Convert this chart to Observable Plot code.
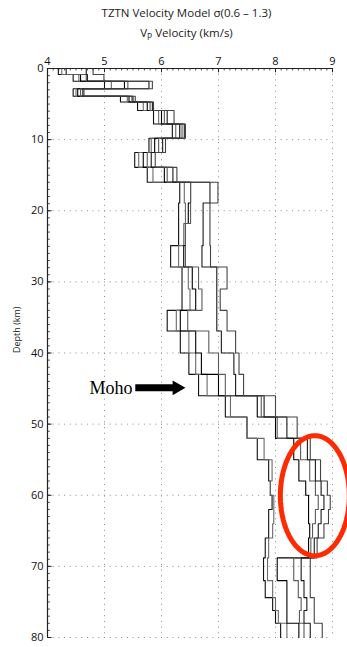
<!DOCTYPE html>
<html>
<head>
<meta charset="utf-8">
<script src="https://cdn.jsdelivr.net/npm/d3@7"></script>
<script src="https://cdn.jsdelivr.net/npm/@observablehq/plot@0.6"></script>
<style>
  html, body { margin: 0; padding: 0; background: #fff; width: 347px; height: 647px; overflow: hidden; }
  .ttl { position: absolute; left: 44px; width: 285px; text-align: center; font-family: "Open Sans", sans-serif; font-size: 11.5px; color: #222; white-space: nowrap; }
  #chart { position: absolute; left: 0; top: 42px; }
  sub { font-size: 8.5px; vertical-align: -3px; line-height: 0; }
</style>
</head>
<body>
<div class="ttl" style="top:5px">TZTN Velocity Model σ(0.6 – 1.3)</div>
<div class="ttl" style="top:25px">V<sub>P</sub> Velocity (km/s)</div>
<div id="chart"></div>
<script>
// ---- data ----
const layerBounds = [0, 0.85, 1.8, 2.85, 3.9, 4.7, 5.9, 7.8, 9.8, 11.8, 13.9, 16, 18.9, 21.8, 24.9, 27.9, 31, 34, 36.9, 40, 43, 46, 49, 52, 55, 58, 60, 62, 64, 66, 68.8, 72, 74.4, 76.2, 78, 80];
const model1 = [4.19, 4.45, 5.00, 4.45, 5.28, 5.58, 5.86, 6.19, 5.78, 5.53, 5.75, 6.32, 6.30, 6.30, 6.16, 6.36, 6.36, 6.10, 6.33, 6.48, 6.65, 7.12, 7.50, 7.68, 7.88, 7.91, 7.94, 7.88, 7.88, 7.82, 7.79, 7.82, 7.95, 8.00, 8.09];
const model2 = [4.25, 4.55, 5.12, 4.50, 5.40, 5.68, 5.95, 6.25, 5.82, 5.60, 5.85, 6.40, 6.42, 6.39, 6.30, 6.47, 6.50, 6.26, 6.48, 6.60, 6.80, 7.21, 7.50, 7.80, 7.94, 7.91, 7.97, 7.97, 7.95, 7.88, 7.86, 7.95, 8.00, 8.05, 8.20];
const model3 = [4.33, 4.58, 5.35, 4.53, 5.43, 5.75, 6.00, 6.32, 5.88, 5.68, 6.05, 6.51, 6.47, 6.42, 6.39, 6.54, 6.60, 6.33, 6.60, 6.70, 7.00, 7.68, 8.00, 8.32, 8.41, 8.53, 8.58, 8.58, 8.60, 8.58, 8.03, 8.20, 8.20, 8.20, 8.41];
const model4 = [4.33, 4.68, 5.41, 4.58, 5.48, 5.80, 6.05, 6.36, 5.95, 5.75, 6.10, 6.51, 6.51, 6.42, 6.42, 6.65, 6.71, 6.46, 6.83, 7.00, 7.12, 7.75, 8.03, 8.44, 8.60, 8.70, 8.75, 8.70, 8.65, 8.62, 8.32, 8.40, 8.45, 8.42, 8.50];
const model5 = [4.68, 4.70, 5.78, 4.62, 5.50, 5.84, 6.10, 6.40, 6.02, 5.82, 6.20, 6.85, 6.73, 6.73, 6.71, 6.97, 6.97, 6.97, 7.05, 7.27, 7.30, 7.80, 8.20, 8.56, 8.70, 8.80, 8.85, 8.80, 8.75, 8.68, 8.45, 8.50, 8.55, 8.50, 8.61];
const model6 = [4.80, 4.99, 5.84, 4.64, 5.54, 5.86, 6.22, 6.42, 6.07, 5.89, 6.27, 6.99, 6.85, 6.85, 6.86, 7.15, 7.03, 7.15, 7.30, 7.36, 7.44, 8.00, 8.38, 8.61, 8.79, 8.91, 8.96, 8.93, 8.85, 8.73, 8.61, 8.61, 8.68, 8.68, 8.82];
const modelNames = ["m1", "m2", "m3", "m4", "m5", "m6"];
const xTicks = [4, 5, 6, 7, 8, 9];
const yTicks = [0, 10, 20, 30, 40, 50, 60, 70, 80];
const mohoLabel = "Moho";
const mohoDepth = 44.9;
const mohoTextVel = 5.49;
const mohoArrowFrom = 5.54;
const mohoArrowTo = 6.27;
const anomalyCenter = [8.69, 60.06];   // velocity, depth
const anomalyRadii = [0.605, 8.44];    // velocity, depth

// ---- derived ----
const modelColors = ["#111", "#6a6a6a", "#000", "#5a5a5a", "#1a1a1a", "#444"];
const models = [model1, model2, model3, model4, model5, model6];
const pts = [];
models.forEach((vals, i) => {
  vals.forEach((v, j) => {
    pts.push({model: modelNames[i], v, depth: layerBounds[j]});
    pts.push({model: modelNames[i], v, depth: layerBounds[j + 1]});
  });
});
const xMinor = d3.range(40, 91).map(d => d / 10);
const yMinor = d3.range(0, 81);
const ellipse = d3.range(0, 121).map(i => {
  const t = (i / 120) * 2 * Math.PI;
  return {v: anomalyCenter[0] + anomalyRadii[0] * Math.cos(t), depth: anomalyCenter[1] + anomalyRadii[1] * Math.sin(t)};
});

const chart = Plot.plot({
  width: 347,
  height: 605,
  marginTop: 26,
  marginBottom: 10,
  marginLeft: 47,
  marginRight: 15,
  style: {fontFamily: "Open Sans, sans-serif", fontSize: "11px", color: "#111", background: "white", overflow: "visible"},
  x: {domain: [4, 9], axis: "top", ticks: xTicks, tickSize: 0, tickPadding: 4, label: null, tickFormat: d3.format("d")},
  y: {domain: [0, 80], reverse: true, axis: "left", ticks: yTicks, tickSize: 0, tickPadding: 4, label: null, tickFormat: d3.format("d")},
  color: {domain: modelNames, range: modelColors},
  marks: [
    Plot.ruleX(xTicks.slice(1), {stroke: "#8a8a8a", strokeWidth: 1, strokeDasharray: "1,4.7"}),
    Plot.ruleY(yTicks.slice(1), {stroke: "#8a8a8a", strokeWidth: 1, strokeDasharray: "1,4.7"}),
    Plot.ruleX(xMinor, {y1: 0, y2: 0.35, stroke: "#222", strokeWidth: 0.8}),
    Plot.ruleY(yMinor, {x1: 4, x2: 4.05, stroke: "#222", strokeWidth: 0.8}),
    Plot.ruleX(xTicks, {y1: 0, y2: 0.6, stroke: "#222", strokeWidth: 1}),
    Plot.ruleY(yTicks, {x1: 4, x2: 4.08, stroke: "#222", strokeWidth: 1}),
    Plot.line(pts, {x: "v", y: "depth", z: "model", stroke: "model", strokeWidth: 1.1, curve: "linear"}),
    Plot.ruleX([4], {stroke: "#222", strokeWidth: 1.2}),
    Plot.ruleY([0], {stroke: "#222", strokeWidth: 1.2}),
    Plot.text(["Depth (km)"], {frameAnchor: "left", rotate: -90, dx: -30, fontSize: 9, fill: "#222"}),
    Plot.text([{v: mohoTextVel, depth: mohoDepth, label: mohoLabel}], {x: "v", y: "depth", text: "label", textAnchor: "end", fontFamily: "Liberation Serif, serif", fontSize: 18, fill: "#000"}),
    Plot.link([{a: mohoArrowFrom, b: mohoArrowTo, d: mohoDepth}], {x1: "a", x2: "b", y1: "d", y2: "d", stroke: "#000", strokeWidth: 7}),
    Plot.dot([{v: mohoArrowTo, depth: mohoDepth}], {x: "v", y: "depth", symbol: "triangle", rotate: 90, r: 5.5, fill: "#000", stroke: null}),
    Plot.line(ellipse, {x: "v", y: "depth", stroke: "#ff2a00", strokeWidth: 5, curve: "linear"})
  ]
});
document.getElementById("chart").appendChild(chart);
</script>
</body>
</html>
